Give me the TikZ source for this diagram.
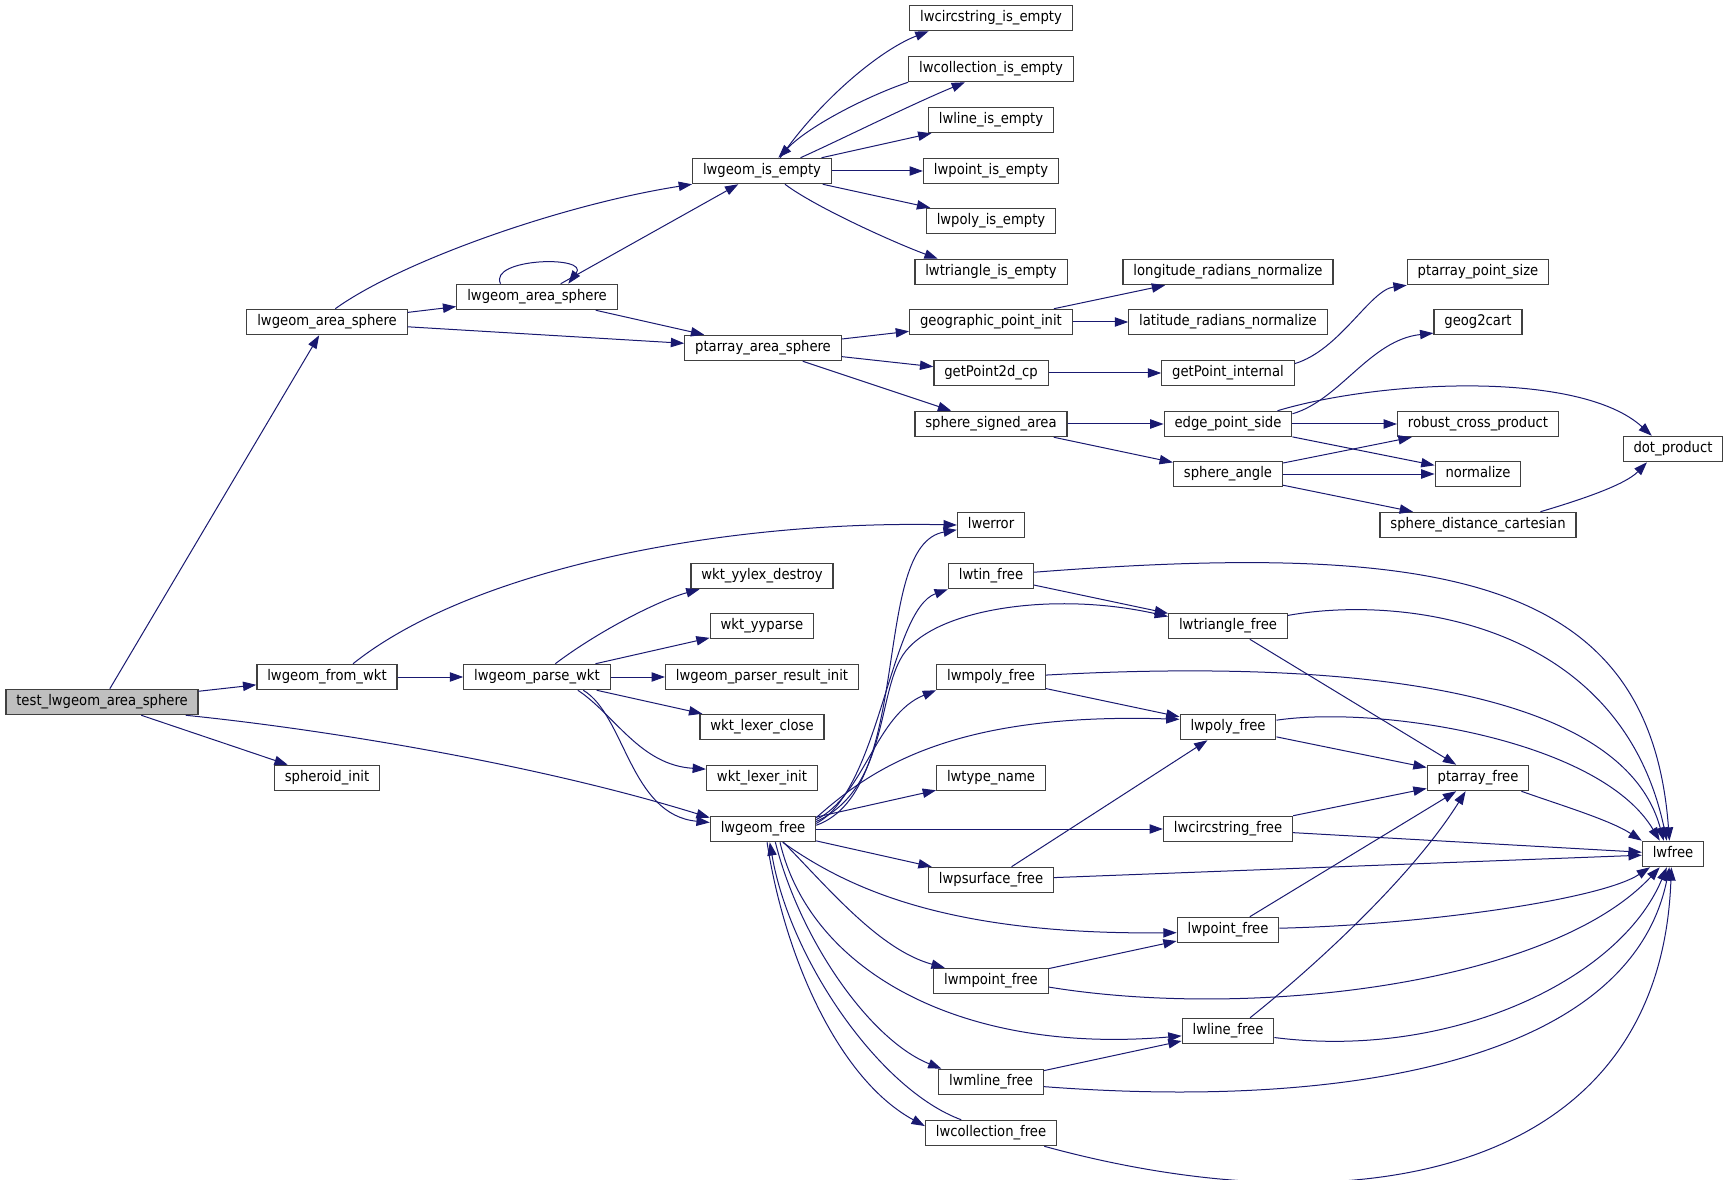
\documentclass[tikz,border=0pt]{standalone}
\usepackage{fontspec}
\setmainfont{DejaVu Sans Condensed}
\usetikzlibrary{arrows.meta, positioning, calc}
\definecolor{callblue}{RGB}{25, 25, 112}
\definecolor{rootgray}{RGB}{191, 191, 191}
\definecolor{boxline}{RGB}{64, 64, 64}

\begin{document}
\begin{tikzpicture}[x=0.75pt, y=-0.75pt,
  fn/.style={draw=boxline, line width=0.9pt, fill=white, inner xsep=7.8pt, inner ysep=0pt,
    minimum height=19pt, text height=8.2pt, text depth=2.6pt, font=\fontsize{11pt}{13pt}\selectfont},
  root/.style={fn, fill=rootgray},
  call/.style={draw=callblue, line width=0.75pt, -{Triangle[length=10pt, width=7pt]}}]
  \useasboundingbox (0,0) rectangle (1728,1180);

  % Root and first callees
  \node[root] (test) at (102,702) {test\_lwgeom\_area\_sphere};
  \node[fn] (areaouter) at (327,322) {lwgeom\_area\_sphere};
  \node[fn] (fromwkt) at (327,677) {lwgeom\_from\_wkt};
  \node[fn] (spheroid) at (327,778) {spheroid\_init};
  \node[fn] (areainner) at (537,297) {lwgeom\_area\_sphere};
  \node[fn] (parsewkt) at (537,677) {lwgeom\_parse\_wkt};

  % Third column
  \node[fn] (isempty) at (762,171) {lwgeom\_is\_empty};
  \node[fn] (ptarea) at (763,348) {ptarray\_area\_sphere};
  \node[fn] (yylexdestroy) at (762,576) {wkt\_yylex\_destroy};
  \node[fn] (yyparse) at (762,626) {wkt\_yyparse};
  \node[fn] (resultinit) at (762,677) {lwgeom\_parser\_result\_init};
  \node[fn] (lexerclose) at (762,727) {wkt\_lexer\_close};
  \node[fn] (lexerinit) at (762,778) {wkt\_lexer\_init};
  \node[fn] (geomfree) at (763,829) {lwgeom\_free};

  % Fourth column
  \node[fn] (circempty) at (991,18) {lwcircstring\_is\_empty};
  \node[fn] (collempty) at (991,69) {lwcollection\_is\_empty};
  \node[fn] (lineempty) at (991,120) {lwline\_is\_empty};
  \node[fn] (pointempty) at (991,171) {lwpoint\_is\_empty};
  \node[fn] (polyempty) at (991,221) {lwpoly\_is\_empty};
  \node[fn] (triempty) at (991,272) {lwtriangle\_is\_empty};
  \node[fn] (geopt) at (991,322) {geographic\_point\_init};
  \node[fn] (getpt2d) at (991,373) {getPoint2d\_cp};
  \node[fn] (signedarea) at (991,424) {sphere\_signed\_area};
  \node[fn] (lwerror) at (991,525) {lwerror};
  \node[fn] (tinfree) at (991,576) {lwtin\_free};
  \node[fn] (mpolyfree) at (991,677) {lwmpoly\_free};
  \node[fn] (typename) at (991,778) {lwtype\_name};
  \node[fn] (psurfacefree) at (991,880) {lwpsurface\_free};
  \node[fn] (mpointfree) at (991,981) {lwmpoint\_free};
  \node[fn] (mlinefree) at (991,1082) {lwmline\_free};
  \node[fn] (collfree) at (991,1133) {lwcollection\_free};

  % Fifth column
  \node[fn] (lonnorm) at (1228,272) {longitude\_radians\_normalize};
  \node[fn] (latnorm) at (1228,322) {latitude\_radians\_normalize};
  \node[fn] (getptint) at (1228,373) {getPoint\_internal};
  \node[fn] (edgeside) at (1228,424) {edge\_point\_side};
  \node[fn] (sphangle) at (1228,474) {sphere\_angle};
  \node[fn] (trianglefree) at (1228,626) {lwtriangle\_free};
  \node[fn] (polyfree) at (1228,727) {lwpoly\_free};
  \node[fn] (circfree) at (1228,829) {lwcircstring\_free};
  \node[fn] (pointfree) at (1228,930) {lwpoint\_free};
  \node[fn] (linefree) at (1228,1031) {lwline\_free};

  % Sixth and last columns
  \node[fn] (ptsize) at (1478,272) {ptarray\_point\_size};
  \node[fn] (geog2cart) at (1478,322) {geog2cart};
  \node[fn] (robust) at (1478,424) {robust\_cross\_product};
  \node[fn] (normalize) at (1478,474) {normalize};
  \node[fn] (sphdist) at (1478,525) {sphere\_distance\_cartesian};
  \node[fn] (ptarrayfree) at (1478,778) {ptarray\_free};
  \node[fn] (dotprod) at (1673,449) {dot\_product};
  \node[fn] (lwfree) at (1673,854) {lwfree};

  % Calls of the root
  \draw[call] (test) -- (areaouter);
  \draw[call] (test) -- (fromwkt);
  \draw[call] (test) -- (spheroid);
  \draw[call] (test.-9) .. controls (330,730) and (540,765) .. (geomfree.168);

  % Area and emptiness
  \draw[call] (areaouter.58) .. controls (400,262) and (560,205) .. (isempty.south west);
  \draw[call] (areaouter) -- (areainner);
  \draw[call] (areaouter) -- (ptarea);
  \draw[call] (areainner.160) .. controls (488,258) and (590,255) .. (areainner.23);
  \draw[call] (areainner) -- (isempty);
  \draw[call] (areainner) -- (ptarea);
  \draw[call] (isempty.36) .. controls (820,100) and (880,50) .. (circempty.-168);
  \draw[call] (collempty.south west) .. controls (870,95) and (810,125) .. (isempty.39);
  \draw[call] (isempty.19) .. controls (840,140) and (910,105) .. (collempty.-153);
  \draw[call] (isempty) -- (lineempty);
  \draw[call] (isempty) -- (pointempty);
  \draw[call] (isempty) -- (polyempty);
  \draw[call] (isempty.-30) .. controls (815,207) and (895,243) .. (triempty.166);

  % Spherical area
  \draw[call] (ptarea) -- (geopt);
  \draw[call] (ptarea) -- (getpt2d);
  \draw[call] (ptarea) -- (signedarea);
  \draw[call] (geopt) -- (lonnorm);
  \draw[call] (geopt) -- (latnorm);
  \draw[call] (getpt2d) -- (getptint);
  \draw[call] (getptint.8) .. controls (1340,350) and (1370,290) .. (ptsize.south west);
  \draw[call] (signedarea) -- (edgeside);
  \draw[call] (signedarea) -- (sphangle);
  \draw[call] (edgeside.9) .. controls (1340,400) and (1370,340) .. (geog2cart.-166);
  \draw[call] (edgeside.15) .. controls (1380,380) and (1580,370) .. (dotprod.148);
  \draw[call] (edgeside) -- (robust);
  \draw[call] (edgeside) -- (normalize);
  \draw[call] (sphangle) -- (robust);
  \draw[call] (sphangle) -- (normalize);
  \draw[call] (sphangle) -- (sphdist);
  \draw[call] (sphdist.12) .. controls (1580,500) and (1625,485) .. (dotprod.-153);

  % Parsing
  \draw[call] (fromwkt.27) .. controls (470,570) and (720,520) .. (lwerror.west);
  \draw[call] (fromwkt) -- (parsewkt);
  \draw[call] (parsewkt.36) .. controls (600,630) and (660,600) .. (yylexdestroy.-168);
  \draw[call] (parsewkt) -- (yyparse);
  \draw[call] (parsewkt) -- (resultinit);
  \draw[call] (parsewkt) -- (lexerclose);
  \draw[call] (parsewkt.-18) .. controls (615,715) and (640,765) .. (lexerinit.171);
  \draw[call] (parsewkt.-16) .. controls (625,715) and (630,815) .. (geomfree.173);

  % Freeing geometries
  \draw[call] (geomfree.4) .. controls (915,790) and (870,545) .. (lwerror.-172);
  \draw[call] (geomfree.6) .. controls (880,790) and (890,610) .. (tinfree.south west);
  \draw[call] (geomfree.8) .. controls (885,790) and (878,700) .. (900,660)
    .. controls (925,610) and (1050,590) .. (trianglefree.171);
  \draw[call] (geomfree.10) .. controls (865,795) and (875,715) .. (mpolyfree.south west);
  \draw[call] (geomfree.12) .. controls (870,770) and (950,712) .. (polyfree.171);
  \draw[call] (geomfree) -- (typename);
  \draw[call] (geomfree) -- (circfree);
  \draw[call] (geomfree) -- (psurfacefree);
  \draw[call] (geomfree.-34) .. controls (850,890) and (950,935) .. (pointfree.-177);
  \draw[call] (geomfree.-33) .. controls (830,890) and (880,950) .. (mpointfree.164);
  \draw[call] (geomfree.-38) .. controls (810,970) and (960,1055) .. (linefree.-174);
  \draw[call] (geomfree.-47) .. controls (800,940) and (870,1040) .. (mlinefree.165);
  \draw[call] (geomfree.-73) .. controls (785,960) and (840,1080) .. (collfree.174);
  \draw[call] (collfree.156) .. controls (880,1090) and (790,960) .. (geomfree.-63);

  % Callees of the free functions
  \draw[call] (tinfree) -- (trianglefree);
  \draw[call] (tinfree.5) .. controls (1450,540) and (1650,580) .. (lwfree.105);
  \draw[call] (trianglefree) -- (ptarrayfree);
  \draw[call] (trianglefree.10) .. controls (1400,595) and (1620,620) .. (lwfree.115);
  \draw[call] (mpolyfree) -- (polyfree);
  \draw[call] (mpolyfree.2) .. controls (1320,660) and (1620,680) .. (lwfree.125);
  \draw[call] (polyfree) -- (ptarrayfree);
  \draw[call] (polyfree.8) .. controls (1380,705) and (1600,740) .. (lwfree.135);
  \draw[call] (circfree) -- (ptarrayfree);
  \draw[call] (circfree) -- (lwfree);
  \draw[call] (psurfacefree) -- (polyfree);
  \draw[call] (psurfacefree) -- (lwfree);
  \draw[call] (pointfree) -- (ptarrayfree);
  \draw[call] (pointfree.2) .. controls (1420,925) and (1600,900) .. (lwfree.-150);
  \draw[call] (mpointfree) -- (pointfree);
  \draw[call] (mpointfree.-6) .. controls (1250,1020) and (1550,985) .. (lwfree.-135);
  \draw[call] (linefree.31) .. controls (1310,970) and (1410,880) .. (ptarrayfree.-133);
  \draw[call] (linefree.-8) .. controls (1450,1060) and (1620,980) .. (lwfree.-115);
  \draw[call] (mlinefree) -- (linefree);
  \draw[call] (mlinefree.-5) .. controls (1350,1110) and (1630,1060) .. (lwfree.-105);
  \draw[call] (collfree.-14) .. controls (1350,1230) and (1660,1180) .. (lwfree.-97);
  \draw[call] (ptarrayfree.-17) .. controls (1560,805) and (1610,820) .. (lwfree.north west);
\end{tikzpicture}
\end{document}
